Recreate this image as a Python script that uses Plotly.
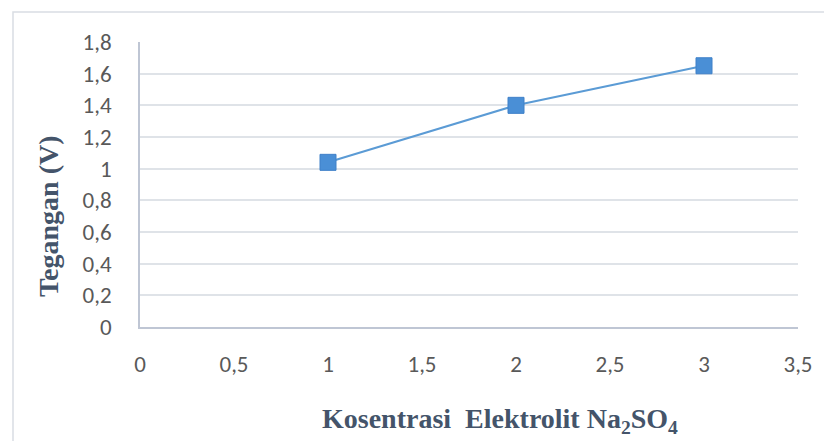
import plotly.graph_objects as go

x_vals = [1, 2, 3]
y_vals = [1.04, 1.40, 1.65]
x_ticks = [0, 0.5, 1, 1.5, 2, 2.5, 3, 3.5]
x_ticklabels = ["0", "0,5", "1", "1,5", "2", "2,5", "3", "3,5"]
y_ticks = [0, 0.2, 0.4, 0.6, 0.8, 1, 1.2, 1.4, 1.6, 1.8]
y_ticklabels = ["0", "0,2", "0,4", "0,6", "0,8", "1", "1,2", "1,4", "1,6", "1,8"]

fig = go.Figure()
fig.add_trace(go.Scatter(
    x=x_vals, y=y_vals, mode="lines+markers",
    line=dict(color="#5b9bd5", width=2),
    marker=dict(symbol="square", size=16, color="#4a8fd6",
                line=dict(color="#3f80c8", width=1)),
    showlegend=False, cliponaxis=False,
))

tick_font = dict(family="Carlito, Liberation Sans, Arial", size=23, color="#595959")
fig.update_layout(
    width=824, height=433,
    margin=dict(l=132, r=34, t=34, b=114),
    paper_bgcolor="white", plot_bgcolor="white",
    xaxis=dict(range=[0, 3.5], tickvals=x_ticks, ticktext=x_ticklabels,
               showgrid=False, zeroline=False, showline=True,
               linecolor="#bfc6d4", linewidth=1.5, tickfont=tick_font,
               ticks="", ticklabelstandoff=16),
    yaxis=dict(range=[0, 1.8], tickvals=y_ticks, ticktext=y_ticklabels,
               showgrid=True, gridcolor="#dfe3e8", gridwidth=1.5,
               zeroline=False, showline=True, linecolor="#bfc6d4", linewidth=1.5,
               tickfont=tick_font, ticks="", ticklabelstandoff=22),
    shapes=[dict(type="rect", xref="paper", yref="paper",
                 x0=(13 - 140) / 658, x1=1.2, y0=-0.6, y1=1 + (42 - 12) / 285,
                 line=dict(color="#d9dde3", width=1.5), fillcolor="rgba(0,0,0,0)",
                 layer="below")],
    annotations=[
        dict(text="<b>Tegangan (V)</b>", xref="paper", yref="paper",
             x=(48 - 140) / 658, y=(327 - 216) / 285, textangle=-90,
             showarrow=False, xanchor="center", yanchor="middle",
             font=dict(family="Liberation Serif, Times New Roman", size=28, color="#44546a")),
        dict(text="<b>Kosentrasi  Elektrolit Na<sub>2</sub>SO<sub>4</sub></b>",
             xref="paper", yref="paper",
             x=(500 - 140) / 658, y=(327 - 420) / 285,
             showarrow=False, xanchor="center", yanchor="middle",
             font=dict(family="Liberation Serif, Times New Roman", size=28, color="#44546a")),
    ],
)
fig.write_html("out.html")
